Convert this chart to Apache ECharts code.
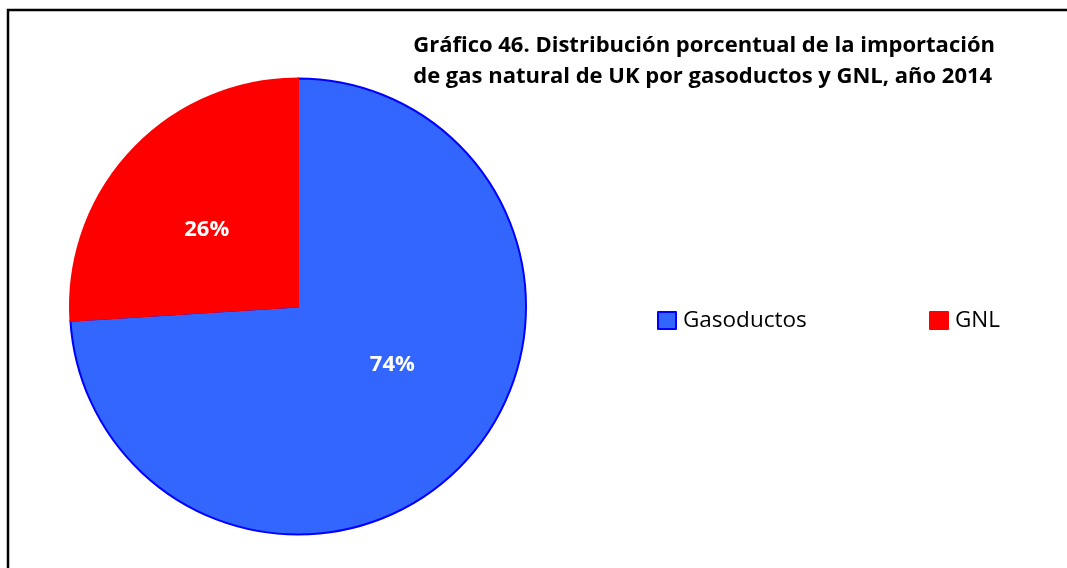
<!DOCTYPE html>
<html>
<head>
<meta charset="utf-8">
<script src="https://cdn.jsdelivr.net/npm/echarts@6/dist/echarts.min.js"></script>
<style>
  html, body { margin: 0; padding: 0; background: #fff; }
  #chart { width: 1067px; height: 568px; }
</style>
</head>
<body>
<div id="chart"></div>
<script>
// Importación de gas natural de UK, año 2014 (% del total)
const categories = ['Gasoductos', 'GNL'];
const shares = [74, 26];
const fillColors = ['#3366FF', '#FF0000'];
const edgeColors = ['#0000FF', '#FF0000'];
const labelOffsets = [[9, -22], [-6, 3]];

const titleLines = [
  'Gráfico 46. Distribución porcentual de la importación',
  'de gas natural de UK por gasoductos y GNL, año 2014'
];

const chart = echarts.init(document.getElementById('chart'), null, { renderer: 'canvas' });

const pieData = categories.map((name, i) => ({
  name,
  value: shares[i],
  itemStyle: { color: fillColors[i], borderColor: edgeColors[i], borderWidth: 2 },
  label: { offset: labelOffsets[i] }
}));

const legendBase = {
  orient: 'horizontal',
  top: 309,
  padding: 0,
  itemWidth: 18,
  itemHeight: 17,
  itemGap: 0,
  icon: 'rect',
  textStyle: { fontFamily: 'Open Sans', fontSize: 22.5, color: '#000', padding: [0, 0, 0, 2] },
  selectedMode: false
};

chart.setOption({
  animation: false,
  backgroundColor: '#fff',
  title: {
    text: titleLines.join('\n'),
    right: 67,
    top: 25,
    textStyle: {
      fontFamily: 'Open Sans',
      fontWeight: 'bold',
      fontSize: 22,
      lineHeight: 31,
      color: '#000',
      align: 'right'
    }
  },
  legend: [
    Object.assign({}, legendBase, { left: 657, data: [categories[0]] }),
    Object.assign({}, legendBase, { left: 929, data: [categories[1]] })
  ],
  series: [{
    type: 'pie',
    center: [298, 306.5],
    radius: 228,
    startAngle: 90,
    clockwise: true,
    silent: true,
    label: {
      position: 'inside',
      formatter: '{c}%',
      color: '#fff',
      fontFamily: 'Open Sans',
      fontWeight: 'bold',
      fontSize: 22
    },
    labelLine: { show: false },
    data: pieData
  }],
  graphic: [{
    type: 'rect',
    shape: { x: 8, y: 10, width: 1075, height: 575 },
    style: { fill: 'none', stroke: '#000', lineWidth: 2.5 },
    silent: true
  }]
});
</script>
</body>
</html>
